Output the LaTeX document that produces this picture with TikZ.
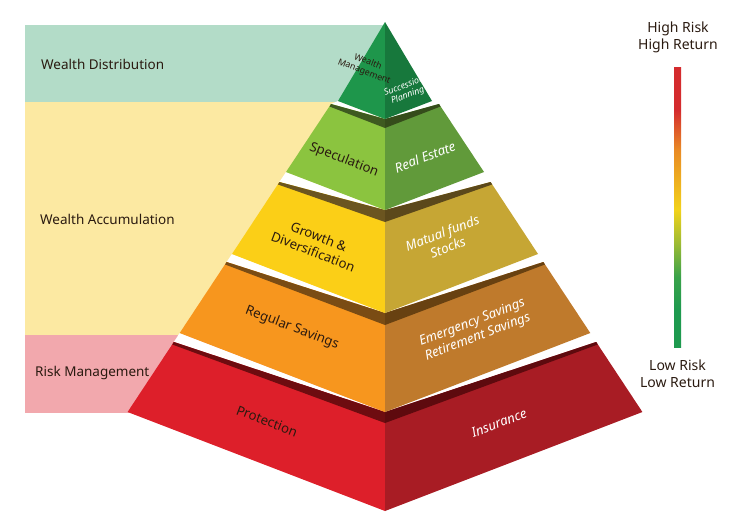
\documentclass[tikz,border=0pt]{standalone}
\usepackage{fontspec}
\setmainfont{Noto Sans}
\usetikzlibrary{calc}
\definecolor{wdist}{HTML}{B3DCC8}
\definecolor{wacc}{HTML}{FCE9A2}
\definecolor{riskm}{HTML}{F2A8AD}
\definecolor{t1l}{HTML}{1E964B}
\definecolor{t1r}{HTML}{17783C}
\definecolor{t2l}{HTML}{8BC43F}
\definecolor{t2r}{HTML}{619A3A}
\definecolor{t2s}{HTML}{3E5A20}
\definecolor{t3l}{HTML}{FBCF17}
\definecolor{t3r}{HTML}{C6A634}
\definecolor{t3s}{HTML}{6B5520}
\definecolor{t4l}{HTML}{F7961E}
\definecolor{t4r}{HTML}{BF7A2C}
\definecolor{t4s}{HTML}{7A4C14}
\definecolor{t5l}{HTML}{DD1F2A}
\definecolor{t5r}{HTML}{A81C24}
\definecolor{t5s}{HTML}{6E0C10}
\definecolor{txtdark}{HTML}{2A1A10}
\definecolor{barGa}{HTML}{1E9A4F}
\definecolor{barGb}{HTML}{3AA24A}
\definecolor{barYG}{HTML}{9EBB33}
\definecolor{barY}{HTML}{F2D21A}
\definecolor{barO}{HTML}{E98A25}
\definecolor{barR}{HTML}{D42B2E}
\pgfdeclareverticalshading{riskbar}{100bp}{color(0bp)=(barGa); color(25bp)=(barGa); color(31.6bp)=(barGa); color(37.5bp)=(barGb); color(43.6bp)=(barYG); color(49.5bp)=(barY); color(60.2bp)=(barO); color(67.3bp)=(barR); color(75bp)=(barR); color(100bp)=(barR)}
\begin{document}
\begin{tikzpicture}[x=1pt,y=-1pt,
  bandlbl/.style={font=\fontsize{13.5}{16}\selectfont, text=txtdark, inner sep=0pt, anchor=west},
  sidelbl/.style={font=\fontsize{14}{17}\selectfont, text=txtdark, inner sep=0pt, align=center},
  lefttxt/.style={font=\fontsize{13.2}{16}\selectfont, text=txtdark, rotate=-21, align=center, inner sep=0pt},
  righttxt/.style={font=\fontsize{13.2}{15.5}\selectfont\itshape, text=white, rotate=21, align=center, inner sep=0pt},
  smallleft/.style={lefttxt, font=\fontsize{8.8}{10.5}\selectfont},
  smallright/.style={righttxt, font=\fontsize{8.8}{10}\selectfont\itshape},
  gap/.style={fill=white}]
\useasboundingbox (0,0) rectangle (735,512);
% bands
\fill[wdist] (25,25) rectangle (385,102);
\fill[wacc] (25,102) rectangle (385,335);
\fill[riskm] (25,335) rectangle (385,413);
\node[bandlbl] (lblDist) at (41,64) {Wealth Distribution};
\node[bandlbl] (lblAcc) at (40,219) {Wealth Accumulation};
\node[bandlbl] (lblRisk) at (35,373) {Risk Management};
% coordinates
\coordinate (A) at (385,22);
\coordinate (L1) at (338,101); \coordinate (R1) at (432,101); \coordinate (F1) at (385,119);
\coordinate (TL2) at (331,104); \coordinate (TR2) at (439,104);
\coordinate (BL2) at (286,172); \coordinate (BR2) at (484,172); \coordinate (FB2) at (385,210);
\coordinate (S2) at (385,128);
\coordinate (TL3) at (279.4,182); \coordinate (TR3) at (490.6,182);
\coordinate (BL3) at (232,254); \coordinate (BR3) at (538,254); \coordinate (FB3) at (385,313);
\coordinate (S3) at (385,222);
\coordinate (TL4) at (226.6,262); \coordinate (TR4) at (543.4,262);
\coordinate (BL4) at (179.7,333); \coordinate (BR4) at (590.3,333); \coordinate (FB4) at (385,412);
\coordinate (S4) at (385,325);
\coordinate (TL5) at (173.8,342); \coordinate (TR5) at (596.2,342);
\coordinate (BL5) at (127.6,412); \coordinate (BR5) at (642.4,412); \coordinate (FB5) at (385,511);
\coordinate (S5) at (385,423);
% tier 5
\fill[gap] (BL4) -- (FB4) -- (TL5) -- cycle;
\fill[gap] (BR4) -- (FB4) -- (TR5) -- cycle;
\fill[t5l] (TL5) -- (FB4) -- (FB5) -- (BL5) -- cycle;
\fill[t5r] (TR5) -- (FB4) -- (FB5) -- (BR5) -- cycle;
\fill[t5s] (TL5) -- (FB4) -- (S5) -- ($(TL5)+(-1.5,2.5)$) -- cycle;
\fill[t5s!85!black] (TR5) -- (FB4) -- (S5) -- ($(TR5)+(1.5,2.5)$) -- cycle;
% tier 4
\fill[gap] (BL3) -- (FB3) -- (TL4) -- cycle;
\fill[gap] (BR3) -- (FB3) -- (TR4) -- cycle;
\fill[t4l] (TL4) -- (FB3) -- (FB4) -- (BL4) -- cycle;
\fill[t4r] (TR4) -- (FB3) -- (FB4) -- (BR4) -- cycle;
\fill[t4s] (TL4) -- (FB3) -- (S4) -- ($(TL4)+(-1.5,2.5)$) -- cycle;
\fill[t4s!85!black] (TR4) -- (FB3) -- (S4) -- ($(TR4)+(1.5,2.5)$) -- cycle;
% tier 3
\fill[gap] (BL2) -- (FB2) -- (TL3) -- cycle;
\fill[gap] (BR2) -- (FB2) -- (TR3) -- cycle;
\fill[t3l] (TL3) -- (FB2) -- (FB3) -- (BL3) -- cycle;
\fill[t3r] (TR3) -- (FB2) -- (FB3) -- (BR3) -- cycle;
\fill[t3s] (TL3) -- (FB2) -- (S3) -- ($(TL3)+(-1.5,2.5)$) -- cycle;
\fill[t3s!85!black] (TR3) -- (FB2) -- (S3) -- ($(TR3)+(1.5,2.5)$) -- cycle;
% tier 2
\fill[gap] (L1) -- (F1) -- (TL2) -- cycle;
\fill[gap] (R1) -- (F1) -- (TR2) -- cycle;
\fill[t2l] (TL2) -- (F1) -- (FB2) -- (BL2) -- cycle;
\fill[t2r] (TR2) -- (F1) -- (FB2) -- (BR2) -- cycle;
\fill[t2s] (TL2) -- (F1) -- (S2) -- ($(TL2)+(-1.5,2.5)$) -- cycle;
\fill[t2s!85!black] (TR2) -- (F1) -- (S2) -- ($(TR2)+(1.5,2.5)$) -- cycle;
% tier 1
\fill[t1l] (A) -- (L1) -- (F1) -- cycle;
\fill[t1r] (A) -- (R1) -- (F1) -- cycle;
% pyramid texts
\node[smallleft] (wm) at (366,67) {Wealth\\Management};
\node[smallright] (sp) at (406,91) {Succession\\Planning};
\node[lefttxt] (spec) at (344,160) {Speculation};
\node[righttxt] (re) at (425,157) {Real Estate};
\node[lefttxt] (gd) at (316,244) {Growth \&\\Diversification};
\node[righttxt] (mf) at (445,240) {Matual funds\\Stocks};
\node[lefttxt] (rs) at (292,328) {Regular Savings};
\node[righttxt] (es) at (475,330) {Emergency Savings\\Retirement Savings};
\node[lefttxt] (prot) at (267,421) {Protection};
\node[righttxt] (ins) at (499,423) {Insurance};
% risk bar
\node[sidelbl] (hi) at (678,37) {High Risk\\High Return};
\node[sidelbl] (lo) at (677.5,374) {Low Risk\\Low Return};
\coordinate (barTop) at (674,67);
\coordinate (barBot) at (681,347);
\shade[shading=riskbar] (barTop) rectangle (barBot);
\end{tikzpicture}
\end{document}
